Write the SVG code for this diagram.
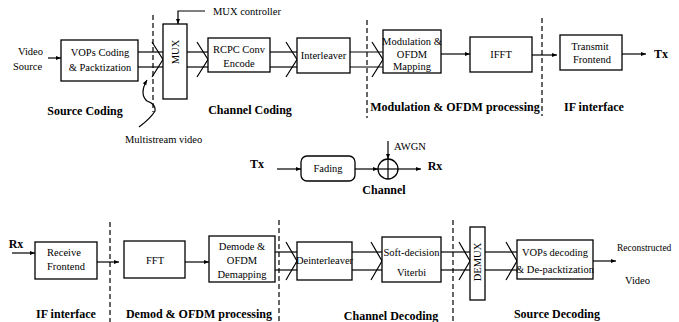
<svg xmlns="http://www.w3.org/2000/svg" width="679" height="322" viewBox="0 0 679 322">
<defs>
<marker id="ah" viewBox="0 0 10 10" refX="10" refY="5" markerWidth="7" markerHeight="5" orient="auto" markerUnits="userSpaceOnUse">
<path d="M0,1 L10,5 L0,9 Z" fill="#000"/>
</marker>
<style>
.box{fill:#fff;stroke:#000;stroke-width:1.3}
.w{fill:none;stroke:#000;stroke-width:1.2}
.d{fill:none;stroke:#000;stroke-width:1.2;stroke-dasharray:5,3}
text{font-family:'Liberation Serif','Times New Roman','DejaVu Serif',serif;fill:#000}
.t{font-size:10.5px;text-anchor:middle}
.s{font-size:12px;font-weight:bold;text-anchor:middle}
.l{font-size:10.5px}
</style>
</defs>
<rect width="679" height="322" fill="#fff"/>

<g id="dashes">
<line class="d" x1="153" y1="15" x2="153" y2="112"/>
<line class="d" x1="367" y1="20" x2="367" y2="118"/>
<line class="d" x1="542" y1="18" x2="542" y2="116"/>
<line class="d" x1="110" y1="222" x2="110" y2="322"/>
<line class="d" x1="279" y1="220" x2="279" y2="322"/>
<line class="d" x1="453" y1="220" x2="453" y2="322"/>
</g>

<g id="connectors">
<line class="w" x1="48" y1="58" x2="61" y2="58" marker-end="url(#ah)"/>
<line class="w" x1="138" y1="52" x2="163" y2="52"/>
<line class="w" x1="138" y1="67" x2="163" y2="67"/>
<polyline class="w" points="152,42 163,59.5 152,77"/>
<polyline class="w" points="205,11 178,11 178,24" marker-end="url(#ah)"/>
<line class="w" x1="187" y1="52" x2="208" y2="52"/>
<line class="w" x1="187" y1="67" x2="208" y2="67"/>
<polyline class="w" points="197,42 208,59.5 197,77"/>
<line class="w" x1="270" y1="52" x2="297" y2="52"/>
<line class="w" x1="270" y1="67" x2="297" y2="67"/>
<polyline class="w" points="286,42 297,59.5 286,77"/>
<line class="w" x1="350" y1="52" x2="383" y2="52"/>
<line class="w" x1="350" y1="67" x2="383" y2="67"/>
<polyline class="w" points="372,42 383,59.5 372,77"/>
<line class="w" x1="441" y1="54" x2="470" y2="54" marker-end="url(#ah)"/>
<line class="w" x1="532" y1="55" x2="557" y2="55" marker-end="url(#ah)"/>
<line class="w" x1="622" y1="54" x2="646" y2="54" marker-end="url(#ah)"/>
<path class="w" d="M139,127 Q151,118 155,111 Q156,104 147,101 Q139,94 147,80" marker-end="url(#ah)"/>

<line class="w" x1="277" y1="169" x2="301" y2="169" marker-end="url(#ah)"/>
<line class="w" x1="355" y1="169" x2="378" y2="169" marker-end="url(#ah)"/>
<line class="w" x1="398" y1="169" x2="421" y2="169" marker-end="url(#ah)"/>
<line class="w" x1="388" y1="141" x2="388" y2="159" marker-end="url(#ah)"/>

<line class="w" x1="12" y1="253" x2="35" y2="253" marker-end="url(#ah)"/>
<line class="w" x1="97" y1="262" x2="119" y2="262" marker-end="url(#ah)"/>
<line class="w" x1="185" y1="262" x2="209" y2="262" marker-end="url(#ah)"/>
<line class="w" x1="275" y1="252" x2="297" y2="252"/>
<line class="w" x1="275" y1="270" x2="297" y2="270"/>
<polyline class="w" points="286,242 297,261 286,280"/>
<line class="w" x1="352" y1="252" x2="382" y2="252"/>
<line class="w" x1="352" y1="270" x2="382" y2="270"/>
<polyline class="w" points="371,242 382,261 371,280"/>
<line class="w" x1="441" y1="252" x2="470" y2="252"/>
<line class="w" x1="441" y1="270" x2="470" y2="270"/>
<polyline class="w" points="459,242 470,261 459,280"/>
<line class="w" x1="485" y1="252" x2="517" y2="252"/>
<line class="w" x1="485" y1="270" x2="517" y2="270"/>
<polyline class="w" points="506,242 517,261 506,280"/>
<line class="w" x1="593" y1="261" x2="616" y2="261" marker-end="url(#ah)"/>
</g>

<g id="vops-coding">
<rect class="box" x="61" y="40" width="77" height="41"/>
<text class="t" x="100" y="56">VOPs Coding</text>
<text class="t" x="100" y="71">&amp; Packtization</text>
</g>
<g id="mux">
<rect class="box" x="163" y="24" width="24" height="75"/>
<text class="t" transform="translate(179,52) rotate(-90)">MUX</text>
</g>
<g id="rcpc">
<rect class="box" x="208" y="38" width="62" height="34"/>
<text class="t" x="239" y="53">RCPC  Conv</text>
<text class="t" x="239" y="67">Encode</text>
</g>
<g id="interleaver">
<rect class="box" x="297" y="38" width="53" height="35"/>
<text class="t" x="323.5" y="59">Interleaver</text>
</g>
<g id="modulation">
<rect class="box" x="383" y="30" width="58" height="43"/>
<text class="t" x="412" y="45">Modulation &amp;</text>
<text class="t" x="412" y="58">OFDM</text>
<text class="t" x="412" y="70">Mapping</text>
</g>
<g id="ifft">
<rect class="box" x="470" y="37" width="62" height="35"/>
<text class="t" x="501" y="58">IFFT</text>
</g>
<g id="transmit">
<rect class="box" x="560" y="35" width="62" height="35"/>
<text class="t" x="590" y="50">Transmit</text>
<text class="t" x="592" y="63">Frontend</text>
</g>

<g id="fading">
<rect class="box" x="301" y="156" width="54" height="25" rx="6"/>
<text class="t" x="328" y="172">Fading</text>
</g>
<g id="adder">
<circle class="box" cx="388" cy="169" r="10"/>
<line class="w" x1="378" y1="169" x2="398" y2="169"/>
<line class="w" x1="388" y1="159" x2="388" y2="179"/>
</g>

<g id="receive">
<rect class="box" x="35" y="242" width="62" height="37"/>
<text class="t" x="64" y="256">Receive</text>
<text class="t" x="66" y="270">Frontend</text>
</g>
<g id="fft">
<rect class="box" x="124" y="241" width="61" height="37"/>
<text class="t" x="155" y="264">FFT</text>
</g>
<g id="demode">
<rect class="box" x="209" y="236" width="66" height="46"/>
<text class="t" x="242" y="250">Demode &amp;</text>
<text class="t" x="242" y="264">OFDM</text>
<text class="t" x="242" y="278">Demapping</text>
</g>
<g id="deinterleaver">
<rect class="box" x="297" y="242" width="55" height="38"/>
<text class="t" x="324.5" y="264">Deinterleaver</text>
</g>
<g id="viterbi">
<rect class="box" x="382" y="237" width="59" height="45"/>
<text class="t" x="411.5" y="256">Soft-decision</text>
<text class="t" x="411.5" y="276">Viterbi</text>
</g>
<g id="demux">
<rect class="box" x="470" y="227" width="15" height="73"/>
<text class="t" transform="translate(481,262) rotate(-90)">DEMUX</text>
</g>
<g id="vops-decoding">
<rect class="box" x="517" y="240" width="76" height="39"/>
<text class="t" x="555" y="256">VOPs decoding</text>
<text class="t" x="555" y="273">&amp; De-packtization</text>
</g>

<g id="labels">
<text class="l" x="18" y="55">Video</text>
<text class="l" x="13" y="70">Source</text>
<text class="l" x="213" y="15">MUX controller</text>
<text class="s" x="654" y="58" style="text-anchor:start">Tx</text>
<text class="l" x="125" y="143">Multistream video</text>
<text class="s" x="85" y="115">Source Coding</text>
<text class="s" x="250" y="114">Channel Coding</text>
<text class="s" x="455" y="111">Modulation &amp; OFDM processing</text>
<text class="s" x="594" y="111">IF interface</text>

<text class="s" x="257" y="168">Tx</text>
<text class="l" x="394" y="150">AWGN</text>
<text class="s" x="435" y="170">Rx</text>
<text class="s" x="384" y="194">Channel</text>

<text class="s" x="16" y="248">Rx</text>
<text class="l" x="617" y="251" style="font-size:9.5px">Reconstructed</text>
<text class="l" x="625" y="284">Video</text>
<text class="s" x="66" y="318">IF interface</text>
<text class="s" x="199" y="318">Demod &amp; OFDM processing</text>
<text class="s" x="391" y="320">Channel Decoding</text>
<text class="s" x="557" y="318">Source Decoding</text>
</g>
</svg>
